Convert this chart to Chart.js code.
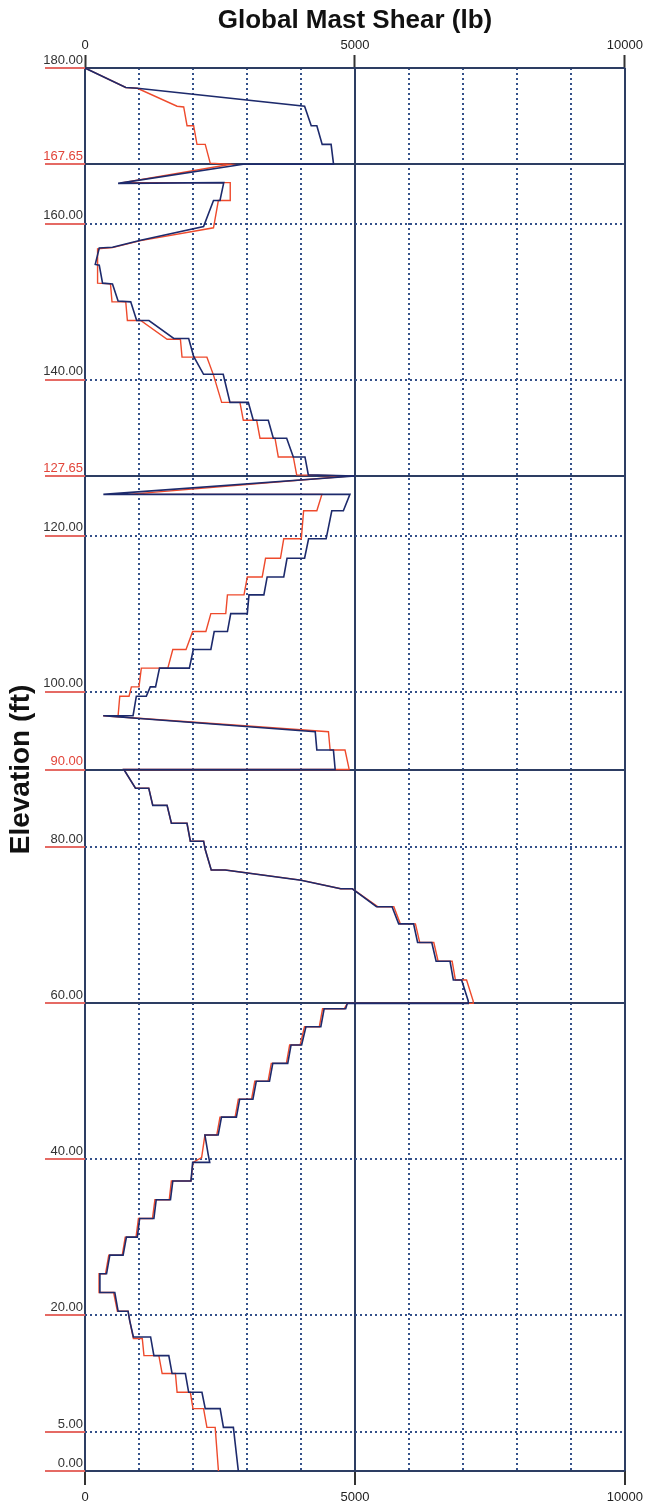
<!DOCTYPE html>
<html>
<head>
<meta charset="utf-8">
<script src="https://cdn.jsdelivr.net/npm/chart.js@4.4.1/dist/chart.umd.min.js"></script>
<style>
  html, body { margin: 0; padding: 0; background: #fff; }
  #wrap { width: 648px; height: 1503px; }
</style>
</head>
<body>
<div id="wrap"><canvas id="shearChart" width="648" height="1503"></canvas></div>
<script>
// shear (lb) / elevation (ft) pairs
const blueShear = [0, 755, 970, 4067, 4190, 4294, 4393, 4558, 4601, 4601, 2930, 613, 2570, 2500, 2380, 2196, 1031, 509, 264, 190, 264, 325, 509, 613, 847, 957, 1184, 1644, 1920, 2012, 2196, 2560, 2685, 3025, 3117, 3395, 3488, 3735, 3858, 4074, 4136, 5000, 340, 4907, 4785, 4571, 4466, 4141, 4067, 3742, 3681, 3374, 3313, 3037, 3006, 2699, 2638, 2393, 2331, 2006, 1933, 1380, 1307, 1209, 1135, 951, 890, 337, 4264, 4294, 4601, 4632, 4632, 720, 935, 1181, 1255, 1520, 1600, 1889, 1951, 2197, 2228, 2338, 2597, 4000, 4736, 4951, 5399, 5687, 5810, 6086, 6160, 6423, 6503, 6761, 6822, 6975, 7098, 7098, 4859, 4828, 4429, 4368, 4092, 4012, 3816, 3755, 3478, 3417, 3172, 3110, 2865, 2804, 2528, 2466, 2221, 2282, 2310, 1994, 1963, 1626, 1583, 1319, 1276, 1012, 969, 767, 706, 460, 399, 276, 276, 552, 613, 798, 828, 896, 1215, 1276, 1552, 1613, 1859, 1920, 2166, 2227, 2503, 2564, 2748, 2840];
const blueElev = [180, 177.5, 177.4, 175.1, 172.6, 172.6, 170.2, 170.2, 167.8, 167.65, 167.65, 165.2, 165.3, 163.0, 163.0, 159.65, 157.9, 157.0, 156.9, 154.8, 154.7, 152.4, 152.3, 150.1, 150.0, 147.6, 147.6, 145.3, 145.3, 143.0, 140.7, 140.7, 137.1, 137.1, 134.8, 134.8, 132.5, 132.5, 130.1, 130.1, 127.8, 127.65, 125.3, 125.3, 123.2, 123.2, 119.6, 119.6, 117.1, 117.1, 114.7, 114.7, 112.4, 112.4, 110.0, 110.0, 107.7, 107.7, 105.4, 105.4, 103.0, 103.0, 100.6, 100.6, 99.4, 99.4, 96.9, 96.9, 94.85, 92.5, 92.5, 90.1, 90.0, 90.0, 87.6, 87.6, 85.4, 85.4, 83.1, 83.1, 80.8, 80.8, 79.7, 77.1, 77.1, 75.8, 74.7, 74.7, 72.4, 72.4, 70.2, 70.2, 67.8, 67.8, 65.4, 65.4, 63.0, 63.0, 60.3, 60.0, 60.0, 59.3, 59.3, 57.0, 57.0, 54.65, 54.65, 52.3, 52.3, 50.0, 50.0, 47.7, 47.7, 45.4, 45.4, 43.1, 43.1, 40.6, 39.6, 39.6, 37.2, 37.2, 34.8, 34.8, 32.4, 32.4, 30.0, 30.0, 27.7, 27.7, 25.3, 25.3, 22.9, 22.9, 20.5, 20.5, 19.3, 17.2, 17.2, 14.8, 14.8, 12.5, 12.5, 10.1, 10.1, 8.0, 8.0, 5.6, 5.6, 0];

const redShear = [0, 755, 970, 1705, 1828, 1890, 2012, 2074, 2227, 2319, 2700, 700, 2690, 2690, 2470, 2380, 1031, 509, 233, 233, 472, 500, 755, 785, 1031, 1521, 1767, 1797, 2258, 2380, 2531, 2870, 2932, 3179, 3241, 3519, 3580, 3858, 3920, 4900, 800, 4387, 4294, 4049, 4006, 3681, 3620, 3344, 3282, 3006, 2945, 2638, 2607, 2331, 2239, 1994, 1871, 1626, 1534, 1043, 1000, 859, 816, 644, 613, 337, 4509, 4540, 4816, 4890, 4890, 720, 935, 1181, 1255, 1520, 1600, 1889, 1951, 2197, 2228, 2338, 2597, 4000, 4736, 4951, 5420, 5720, 5840, 6120, 6200, 6460, 6540, 6800, 6860, 7067, 7190, 7190, 4859, 4800, 4400, 4340, 4065, 3985, 3790, 3730, 3450, 3390, 3145, 3085, 2840, 2780, 2500, 2440, 2221, 2160, 2000, 1963, 1600, 1560, 1295, 1250, 990, 945, 745, 690, 440, 380, 260, 260, 530, 600, 798, 828, 896, 1061, 1092, 1368, 1429, 1675, 1706, 1951, 2000, 2196, 2258, 2411, 2472];
const redElev = [180, 177.5, 177.4, 175.1, 175.0, 172.6, 172.6, 170.2, 170.2, 167.8, 167.65, 165.3, 165.3, 163.0, 163.0, 159.5, 157.85, 156.95, 156.8, 152.4, 152.3, 150.0, 150.0, 147.6, 147.6, 145.2, 145.2, 142.9, 142.9, 140.6, 137.1, 137.1, 134.8, 134.8, 132.5, 132.5, 130.1, 130.1, 127.8, 127.65, 125.3, 125.3, 123.2, 123.2, 119.6, 119.6, 117.1, 117.1, 114.7, 114.7, 112.4, 112.4, 110.0, 110.0, 107.7, 107.7, 105.4, 105.4, 103.0, 103.0, 100.6, 100.6, 99.4, 99.4, 96.9, 96.9, 94.85, 92.5, 92.5, 90.1, 90.0, 90.0, 87.6, 87.6, 85.4, 85.4, 83.1, 83.1, 80.8, 80.8, 79.7, 77.1, 77.1, 75.8, 74.7, 74.7, 72.4, 72.4, 70.2, 70.2, 67.8, 67.8, 65.4, 65.4, 63.0, 63.0, 60.3, 60.0, 60.0, 59.3, 59.3, 57.0, 57.0, 54.65, 54.65, 52.3, 52.3, 50.0, 50.0, 47.7, 47.7, 45.4, 45.4, 43.1, 43.1, 40.2, 39.6, 37.2, 37.2, 34.8, 34.8, 32.4, 32.4, 30.0, 30.0, 27.7, 27.7, 25.3, 25.3, 22.9, 22.9, 20.5, 20.5, 19.3, 17.0, 17.0, 14.8, 14.8, 12.5, 12.5, 10.1, 10.1, 8.0, 8.0, 5.6, 5.6, 0];

// axis ticks
const elevTicks = [0, 5, 20, 40, 60, 80, 90, 100, 120, 127.65, 140, 160, 167.65, 180];
const sectionElevs = [0, 60, 90, 127.65, 167.65, 180];   // solid lines
const redElevLabels = [90, 127.65, 167.65];
const shearGrid = [0, 1000, 2000, 3000, 4000, 5000, 6000, 7000, 8000, 9000, 10000];
const shearLabels = [0, 5000, 10000];

const solidColor = '#2d3d63';
const dotColor = '#34508a';
const fontFamily = "'Liberation Sans', Arial, sans-serif";

function toPoints(xs, ys) {
    return xs.map((x, i) => ({ x: x, y: ys[i] }));
}

new Chart(document.getElementById('shearChart').getContext('2d'), {
    type: 'scatter',
    data: {
        datasets: [
            {
                label: 'Blue',
                data: toPoints(blueShear, blueElev),
                showLine: true,
                borderColor: '#1d2a6c',
                borderWidth: 1.6,
                pointRadius: 0,
                tension: 0,
                order: 0
            },
            {
                label: 'Red',
                data: toPoints(redShear, redElev),
                showLine: true,
                borderColor: '#ee4a2c',
                borderWidth: 1.4,
                pointRadius: 0,
                tension: 0,
                order: 1
            }
        ]
    },
    options: {
        responsive: false,
        animation: false,
        layout: { padding: { left: 0, right: 21, top: 0, bottom: 0 } },
        plugins: {
            legend: { display: false },
            tooltip: { enabled: false },
            title: { display: false }
        },
        scales: {
            x: {
                type: 'linear',
                position: 'bottom',
                min: 0,
                max: 10000,
                afterBuildTicks: s => { s.ticks = shearGrid.map(v => ({ value: v })); },
                afterFit: s => { s.height = 32; },
                grid: {
                    color: ctx => shearLabels.includes(ctx.tick.value) ? solidColor : dotColor,
                    lineWidth: 2,
                    tickLength: 14,
                    tickWidth: 2,
                    tickColor: ctx => shearLabels.includes(ctx.tick.value) ? '#333' : 'rgba(0,0,0,0)'
                },
                border: {
                    display: false,
                    dash: ctx => (ctx.tick && !shearLabels.includes(ctx.tick.value)) ? [2, 3] : []
                },
                ticks: {
                    autoSkip: false,
                    maxRotation: 0,
                    padding: 5,
                    color: '#222',
                    font: { family: fontFamily, size: 13 },
                    callback: v => shearLabels.includes(v) ? String(v) : ''
                }
            },
            xTop: {
                type: 'linear',
                position: 'top',
                min: 0,
                max: 10000,
                afterBuildTicks: s => { s.ticks = shearLabels.map(v => ({ value: v })); },
                afterFit: s => { s.height = 68; },
                grid: { drawOnChartArea: false, tickLength: 13, tickWidth: 2, tickColor: '#333' },
                border: { display: false },
                ticks: {
                    autoSkip: false,
                    maxRotation: 0,
                    padding: 2,
                    color: '#222',
                    font: { family: fontFamily, size: 13 },
                    callback: v => String(v)
                },
                title: {
                    display: true,
                    text: 'Global Mast Shear (lb)',
                    color: '#111',
                    font: { family: fontFamily, size: 26, weight: 'bold' },
                    padding: { top: 5, bottom: 0 }
                }
            },
            y: {
                type: 'linear',
                position: 'left',
                min: 0,
                max: 180,
                afterBuildTicks: s => { s.ticks = elevTicks.map(v => ({ value: v })); },
                afterFit: s => { s.width = 85; },
                grid: {
                    color: ctx => sectionElevs.includes(ctx.tick.value) ? solidColor : dotColor,
                    lineWidth: 2,
                    tickLength: 40,
                    tickWidth: 2,
                    tickColor: '#e56a64'
                },
                border: {
                    display: false,
                    dash: ctx => (ctx.tick && !sectionElevs.includes(ctx.tick.value)) ? [2, 3] : []
                },
                ticks: {
                    autoSkip: false,
                    padding: -38,
                    labelOffset: -8,
                    color: ctx => redElevLabels.includes(ctx.tick.value) ? '#e2453a' : '#333',
                    font: { family: fontFamily, size: 13 },
                    callback: v => Number(v).toFixed(2)
                },
                title: {
                    display: true,
                    text: 'Elevation (ft)',
                    color: '#111',
                    font: { family: fontFamily, size: 28, weight: 'bold' },
                    padding: { top: 4, bottom: 0 }
                }
            }
        }
    }
});
</script>
</body>
</html>
